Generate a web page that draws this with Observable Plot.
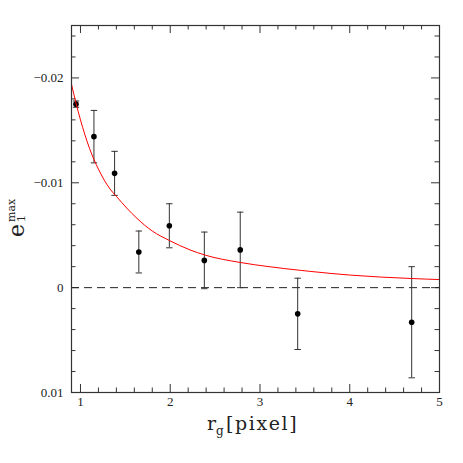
<!DOCTYPE html>
<html>
<head>
<meta charset="utf-8">
<script src="https://cdn.jsdelivr.net/npm/d3@7"></script>
<script src="https://cdn.jsdelivr.net/npm/@observablehq/plot@0.6"></script>
<style>
  html, body { margin: 0; padding: 0; background: #fff; }
  svg { display: block; }
</style>
</head>
<body>
<div id="chart"></div>
<script>
// Measured points (r_g in pixel, e1max) with error bars
const rg   = [0.95, 1.15, 1.38, 1.65, 1.99, 2.38, 2.78, 3.42, 4.69];
const e1   = [-0.0175, -0.0144, -0.0109, -0.0034, -0.0059, -0.0026, -0.0036, 0.0025, 0.0033];
const err  = [0.0003, 0.0025, 0.0021, 0.0020, 0.0021, 0.0027, 0.0036, 0.0034, 0.0053];

// Red model curve
const curveX = [0.9, 0.95, 1.0, 1.1, 1.2, 1.33, 1.4, 1.63, 1.8, 1.99, 2.22, 2.39, 2.78, 3.1, 3.45, 3.56, 4.0, 4.69, 5.0];
const curveY = [-0.0194, -0.0176, -0.0160, -0.0133, -0.0113, -0.0094, -0.0087, -0.0066, -0.0054, -0.0045, -0.0036, -0.0031, -0.0024, -0.0020, -0.00165, -0.00155, -0.0012, -0.00087, -0.00077];

// Tick values
const xMajor = [1, 2, 3, 4, 5];
const xMinor = [1.2, 1.4, 1.6, 1.8, 2.2, 2.4, 2.6, 2.8, 3.2, 3.4, 3.6, 3.8, 4.2, 4.4, 4.6, 4.8];
const yMajor = [-0.02, -0.01, 0, 0.01];
const yMinor = [-0.024, -0.022, -0.018, -0.016, -0.014, -0.012, -0.008, -0.006, -0.004, -0.002, 0.002, 0.004, 0.006, 0.008];
const xLabels = ["1", "2", "3", "4", "5"];
const yLabels = ["\u22120.02", "\u22120.01", "0", "0.01"];

const points = rg.map((x, i) => ({x, y: e1[i], lo: e1[i] - err[i], hi: e1[i] + err[i]}));
const curve = curveX.map((x, i) => ({x, y: curveY[i]}));

const W = 463, H = 463;
const mL = 71, mR = 24, mT = 25, mB = 71;
const plotW = W - mL - mR, plotH = H - mT - mB;
const majorLen = 8, minorLen = 4.5;
const axisColor = "#333";
const font = "'Liberation Serif', 'DejaVu Serif', serif";

const capSymbol = {draw(ctx) { ctx.moveTo(-3.2, 0); ctx.lineTo(3.2, 0); }};

const svg = Plot.plot({
  width: W, height: H,
  marginLeft: mL, marginRight: mR, marginTop: mT, marginBottom: mB,
  style: {fontFamily: font, fontSize: "13px", color: "#222", background: "#fff"},
  x: {domain: [0.9, 5]},
  y: {domain: [0.01, -0.025]},
  marks: [
    Plot.axisX(xMajor, {tickSize: 0, tickPadding: 4, tickFormat: (d, i) => xLabels[i], fontSize: 13, label: null}),
    Plot.axisY(yMajor, {tickSize: 0, tickPadding: 8, tickFormat: (d, i) => yLabels[i], fontSize: 13, label: null}),
    // inward ticks on all four sides
    Plot.tickX(xMajor, {x: d => d, insetTop: plotH - majorLen, stroke: axisColor}),
    Plot.tickX(xMinor, {x: d => d, insetTop: plotH - minorLen, stroke: axisColor}),
    Plot.tickX(xMajor, {x: d => d, insetBottom: plotH - majorLen, stroke: axisColor}),
    Plot.tickX(xMinor, {x: d => d, insetBottom: plotH - minorLen, stroke: axisColor}),
    Plot.tickY(yMajor, {y: d => d, insetRight: plotW - majorLen, stroke: axisColor}),
    Plot.tickY(yMinor, {y: d => d, insetRight: plotW - minorLen, stroke: axisColor}),
    Plot.tickY(yMajor, {y: d => d, insetLeft: plotW - majorLen, stroke: axisColor}),
    Plot.tickY(yMinor, {y: d => d, insetLeft: plotW - minorLen, stroke: axisColor}),
    Plot.ruleY([0], {stroke: "#222", strokeDasharray: "8,5", strokeWidth: 1}),
    Plot.ruleX(points, {x: "x", y1: "lo", y2: "hi", stroke: "#333", strokeWidth: 1}),
    Plot.dot(points, {x: "x", y: "lo", symbol: capSymbol, stroke: "#333", fill: "none", strokeWidth: 1}),
    Plot.dot(points, {x: "x", y: "hi", symbol: capSymbol, stroke: "#333", fill: "none", strokeWidth: 1}),
    Plot.dot(points, {x: "x", y: "y", r: 2.8, fill: "#000", stroke: "none"}),
    Plot.line(curve, {x: "x", y: "y", stroke: "#ff0000", strokeWidth: 1, curve: "monotone-x"}),
    Plot.frame({stroke: axisColor, strokeWidth: 1.2})
  ]
});

// Axis titles
const s = d3.select(svg);
const xt = s.append("text")
  .attr("x", 207).attr("y", 430)
  .attr("text-anchor", "start")
  .attr("font-family", "'DejaVu Serif', serif")
  .attr("font-size", 19).attr("fill", "#222");
xt.append("tspan").text("r");
xt.append("tspan").attr("font-size", 12).attr("dy", 5).text("g");
xt.append("tspan").attr("dy", -5).attr("x", 226).attr("letter-spacing", 1.6).text("[pixel]");

const yt = s.append("g").attr("fill", "#222").attr("text-anchor", "start").attr("font-family", "'DejaVu Serif', serif");
yt.append("text").attr("transform", "translate(24,237) rotate(-90)").attr("font-size", 22).text("e");
yt.append("text").attr("transform", "translate(15,222) rotate(-90)").attr("font-size", 11).text("max");
yt.append("text").attr("transform", "translate(25,222) rotate(-90)").attr("font-size", 11).text("1");

document.getElementById("chart").appendChild(svg);
</script>
</body>
</html>
